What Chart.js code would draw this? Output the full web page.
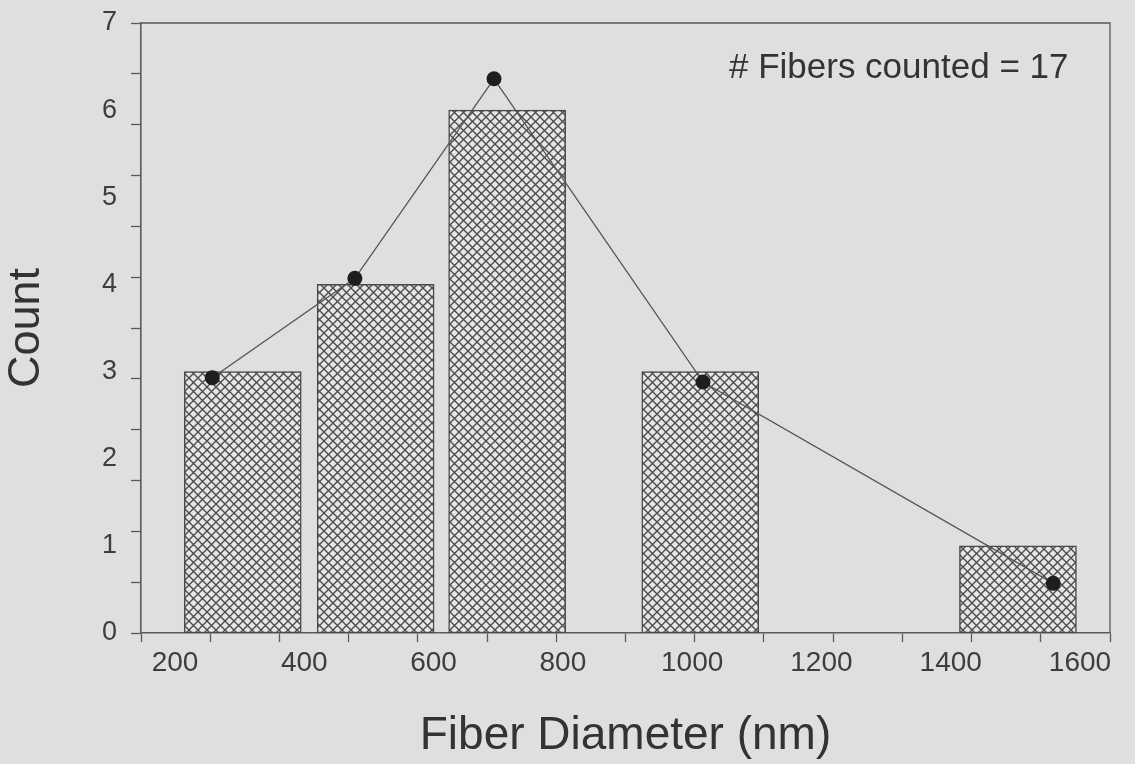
<!DOCTYPE html>
<html>
<head>
<meta charset="utf-8">
<script src="https://cdn.jsdelivr.net/npm/chart.js@4.4.1/dist/chart.umd.min.js"></script>
<style>
  html, body { margin: 0; padding: 0; background: #dfdfdf; }
  #wrap { width: 1135px; height: 764px; }
</style>
</head>
<body>
<div id="wrap"><canvas id="myChart" width="1135" height="764"></canvas></div>
<script>
// histogram of fiber diameters
const barCenters = [347, 539, 729, 1008, 1467];   // nm
const barCounts = [3, 4, 6, 3, 1];
// fitted curve points (dots + line)
const fitX = [303, 509, 710, 1012, 1518];
const fitY = [2.93, 4.07, 6.36, 2.88, 0.57];

const xTickLabels = [200, 400, 600, 800, 1000, 1200, 1400, 1600];
const yTickLabels = [0, 1, 2, 3, 4, 5, 6, 7];

const noteText = '# Fibers counted = 17';

const FONT = "'Liberation Sans', Arial, sans-serif";
const INK = '#3d3d3d';
const AXIS = '#5a5a5a';

// cross hatch
function makeHatch() {
  const n = 9;
  const c = document.createElement('canvas');
  c.width = n; c.height = n;
  const g = c.getContext('2d');
  g.fillStyle = '#e6e6e6';
  g.fillRect(0, 0, n, n);
  g.strokeStyle = '#4d4d4d';
  g.lineWidth = 1.4;
  g.beginPath();
  g.moveTo(-1, -1); g.lineTo(n + 1, n + 1);
  g.moveTo(-1, n + 1); g.lineTo(n + 1, -1);
  g.stroke();
  return g.createPattern(c, 'repeat');
}

const bgPlugin = {
  id: 'bg',
  beforeDraw(chart) {
    const c = chart.ctx;
    c.save();
    c.fillStyle = '#dfdfdf';
    c.fillRect(0, 0, chart.width, chart.height);
    c.restore();
  }
};

// top + right frame and the note
const framePlugin = {
  id: 'frame',
  beforeDatasetsDraw(chart) {
    const {ctx, chartArea: a} = chart;
    ctx.save();
    ctx.strokeStyle = AXIS;
    ctx.lineWidth = 1.3;
    ctx.beginPath();
    ctx.moveTo(a.left, a.top);
    ctx.lineTo(a.right, a.top);
    ctx.lineTo(a.right, a.bottom);
    ctx.stroke();
    ctx.restore();
  },
  afterDraw(chart) {
    const {ctx, scales} = chart;
    ctx.save();
    ctx.font = '35px ' + FONT;
    ctx.fillStyle = '#333';
    ctx.textAlign = 'right';
    ctx.textBaseline = 'middle';
    ctx.fillText(noteText, scales.x.getPixelForValue(1540), scales.y.getPixelForValue(6.48));
    ctx.restore();
  }
};

function noPad(s) {
  s.paddingLeft = 0; s.paddingRight = 0; s.paddingTop = 0; s.paddingBottom = 0;
}

const ctxt = document.getElementById('myChart').getContext('2d');
const myChart = new Chart(ctxt, {
  type: 'bar',
  data: {
    datasets: [
      {
        type: 'line',
        data: fitX.map((x, i) => ({x: x, y: fitY[i]})),
        borderColor: '#555',
        borderWidth: 1.3,
        pointRadius: 7.5,
        pointBackgroundColor: '#1e1e1e',
        pointBorderColor: '#1e1e1e',
        pointBorderWidth: 0,
        tension: 0,
        xAxisID: 'x',
        yAxisID: 'y',
        order: 0
      },
      {
        type: 'bar',
        data: barCenters.map((x, i) => ({x: x, y: barCounts[i]})),
        backgroundColor: makeHatch(),
        borderColor: '#4a4a4a',
        borderWidth: 1.5,
        borderSkipped: false,
        barThickness: 117,
        xAxisID: 'x',
        yAxisID: 'y',
        order: 1
      }
    ]
  },
  options: {
    responsive: false,
    animation: false,
    layout: { padding: { left: 0, right: 25, top: 23, bottom: 0 } },
    plugins: { legend: { display: false }, tooltip: { enabled: false } },
    scales: {
      // data axis: tick marks only
      x: {
        type: 'linear', position: 'bottom', min: 200, max: 1600, offset: false,
        weight: 0,
        ticks: { display: false, stepSize: 100 },
        grid: { offset: false, drawOnChartArea: false, drawTicks: true, tickLength: 9, color: AXIS, tickWidth: 1.3 },
        border: { display: true, color: AXIS, width: 1.6 },
        afterFit(s) { s.height = 9; noPad(s); }
      },
      // printed tick labels + title
      x2: {
        type: 'linear', position: 'bottom', min: 147.4, max: 1646.4, offset: false,
        weight: 1,
        afterBuildTicks(s) { s.ticks = xTickLabels.map(v => ({value: v})); },
        ticks: { autoSkip: false, maxRotation: 0, padding: 4, color: INK, font: { family: FONT, size: 28 },
                 callback: v => String(v) },
        grid: { offset: false, display: false, drawTicks: false },
        border: { display: false },
        title: { display: true, text: 'Fiber Diameter (nm)', color: '#333', font: { family: FONT, size: 46 }, padding: { top: 0, bottom: 0 } },
        afterFit(s) { s.height = 122; noPad(s); }
      },
      y: {
        type: 'linear', position: 'left', min: 0, max: 7,
        weight: 1,
        afterBuildTicks(s) { s.ticks = yTickLabels.map(v => ({value: v})); },
        ticks: { padding: 14, color: INK, font: { family: FONT, size: 27 }, callback: v => String(v) },
        grid: { display: false, drawTicks: false },
        border: { display: false },
        title: { display: true, text: 'Count', color: '#333', font: { family: FONT, size: 45 }, padding: { top: 0, bottom: 0 } },
        afterFit(s) { s.width = 131; noPad(s); }
      },
      // tick marks on the left axis
      y2: {
        type: 'linear', position: 'left', min: 0, max: 12,
        weight: 0,
        ticks: { display: false, stepSize: 1 },
        grid: { drawOnChartArea: false, drawTicks: true, tickLength: 10, color: AXIS, tickWidth: 1.3 },
        border: { display: true, color: AXIS, width: 1.6 },
        afterFit(s) { s.width = 10; noPad(s); }
      }
    }
  },
  plugins: [bgPlugin, framePlugin]
});
</script>
</body>
</html>
